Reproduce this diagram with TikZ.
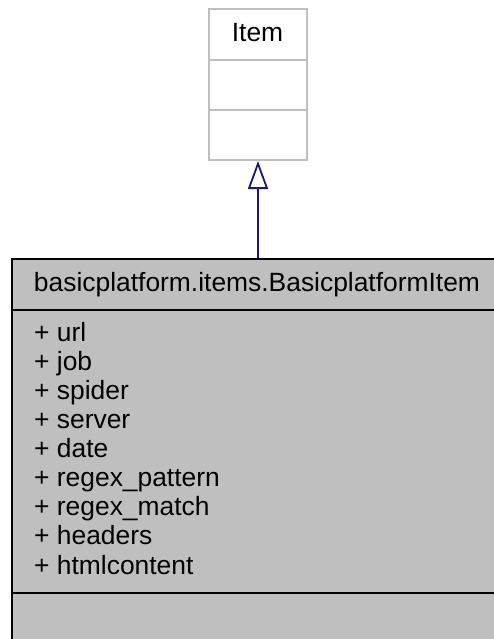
\documentclass[tikz,border=0pt]{standalone}
\usepackage{fontspec}
\setmainfont{Liberation Sans}
\usetikzlibrary{arrows.meta}
\definecolor{boxfill}{HTML}{BFBFBF}
\definecolor{itemline}{HTML}{BFBFBF}
\definecolor{edgecol}{HTML}{191970}
\begin{document}
\begin{tikzpicture}[x=1pt,y=-1pt,
  txt/.style={inner sep=0pt,anchor=base west,font=\fontsize{26.4}{29}\selectfont},
  ttl/.style={inner sep=0pt,anchor=base,font=\fontsize{26.4}{29}\selectfont},
  itembox/.style={draw=itemline,line width=2pt,fill=white,inner sep=0pt},
  clsbox/.style={draw=black,line width=2.6pt,fill=boxfill,inner sep=0pt},
  inherit/.style={draw=edgecol,line width=1.8pt,-{Triangle[open,width=20pt,length=28pt]}}]
\useasboundingbox (0,0) rectangle (494,639);
\clip (0,0) rectangle (494,639);
% Item class
\node[itembox,minimum width=98pt,minimum height=151pt] (item) at (258,84.5) {};
\draw[itemline,line width=2pt] (item.west |- 0,60) -- (item.east |- 0,60);
\draw[itemline,line width=2pt] (item.west |- 0,110) -- (item.east |- 0,110);
\node[ttl] (itemname) at (257.5,42) {Item};
% BasicplatformItem class
\node[clsbox,minimum width=490pt,minimum height=392pt] (cls) at (257,455) {};
\draw[black,line width=2.6pt] (cls.west |- 0,310) -- (cls.east |- 0,310);
\draw[black,line width=2.6pt] (cls.west |- 0,593) -- (cls.east |- 0,593);
\node[ttl] (clsname) at (257,291) {basicplatform.items.BasicplatformItem};
\node[txt] (a1) at (34,341) {+ url};
\node[txt] (a2) at (34,370.1) {+ job};
\node[txt] (a3) at (34,399.25) {+ spider};
\node[txt] (a4) at (34,428.4) {+ server};
\node[txt] (a5) at (34,457.5) {+ date};
\node[txt] (a6) at (34,486.6) {+ regex\_pattern};
\node[txt] (a7) at (34,515.75) {+ regex\_match};
\node[txt] (a8) at (34,544.9) {+ headers};
\node[txt] (a9) at (34,574) {+ htmlcontent};
% inheritance
\draw[inherit] (cls.north -| item.south) -- (item.south);
\end{tikzpicture}
\end{document}
